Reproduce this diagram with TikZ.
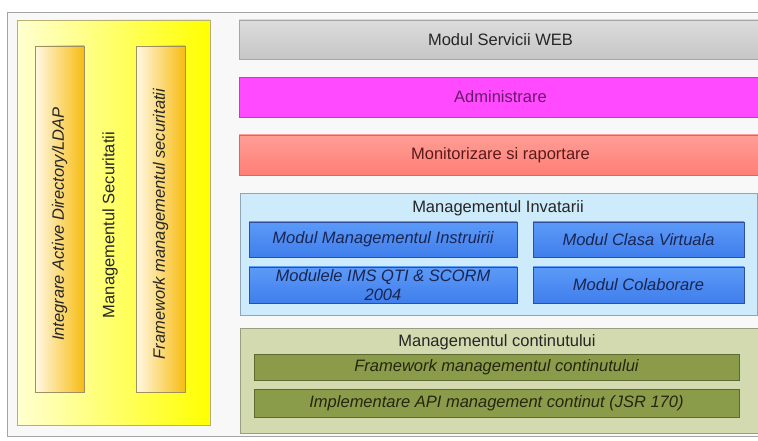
\documentclass[tikz,border=0pt]{standalone}
\usepackage{fontspec}
\setmainfont{Liberation Sans}
\definecolor{framegray}{HTML}{A4A4A4}
\definecolor{framefill}{HTML}{F8F8F8}
\definecolor{yelLight}{HTML}{FFFFD2}
\definecolor{yelDark}{HTML}{FFFF00}
\definecolor{yelBorder}{HTML}{B8B070}
\definecolor{orLight}{HTML}{FFF8E4}
\definecolor{orDark}{HTML}{F7BC12}
\definecolor{orBorder}{HTML}{A09060}
\definecolor{grayTop}{HTML}{DCDCDC}
\definecolor{grayBot}{HTML}{C6C6C6}
\definecolor{grayBorder}{HTML}{A6A6A6}
\definecolor{magFill}{HTML}{FF4AFF}
\definecolor{magBorder}{HTML}{C03CC0}
\definecolor{magText}{HTML}{6A1A6A}
\definecolor{redTop}{HTML}{FF9E96}
\definecolor{redBot}{HTML}{FF7E76}
\definecolor{redBorder}{HTML}{C07070}
\definecolor{redText}{HTML}{5A1A1A}
\definecolor{blueCont}{HTML}{CDEBFA}
\definecolor{blueContBorder}{HTML}{8FA6B6}
\definecolor{blueTop}{HTML}{5C9AF8}
\definecolor{blueBot}{HTML}{407EEC}
\definecolor{blueBorder}{HTML}{2F4F9E}
\definecolor{blueText}{HTML}{1A2550}
\definecolor{greenCont}{HTML}{D3DAAF}
\definecolor{greenContBorder}{HTML}{989E80}
\definecolor{greenFill}{HTML}{8A9C4A}
\definecolor{greenBorder}{HTML}{5C6A32}
\definecolor{greenText}{HTML}{25250F}
\definecolor{darkText}{HTML}{262626}
\tikzset{
  txt/.style={font=\fontsize{16.5bp}{19bp}\selectfont},
  itxt/.style={font=\fontsize{16.5bp}{19bp}\selectfont\itshape},
  bar/.style={draw, rectangle, inner sep=0pt, line width=0.8bp},
}
\begin{document}
\begin{tikzpicture}[x=1bp,y=-1bp]
\useasboundingbox (0,0) rectangle (758,441);
\clip (0,0) rectangle (758,441);
\fill[white] (0,0) rectangle (758,441);
% outer frame
\draw[framegray, fill=framefill, line width=0.8bp] (7,12) rectangle (780,436);

% security column
\node[bar, draw=yelBorder, left color=yelLight, right color=yelDark,
      minimum width=193bp, minimum height=405bp] (sec) at (113.5,222.5) {};
\node[bar, draw=orBorder, left color=orLight, right color=orDark,
      minimum width=49bp, minimum height=346bp] (ldapbar) at (59.5,219) {};
\node[bar, draw=orBorder, left color=orLight, right color=orDark,
      minimum width=49bp, minimum height=346bp] (fwbar) at (160.5,219) {};
\node[itxt, text=darkText, rotate=90] (ldap) at (59.5,224) {Integrare Active Directory/LDAP};
\node[txt, text=darkText, rotate=90] (sectitle) at (110,225) {Managementul Securitatii};
\node[itxt, text=darkText, rotate=90] (fw) at (160.5,224) {Framework managementul securitatii};

% top bands
\node[bar, txt, draw=grayBorder, top color=grayTop, bottom color=grayBot, text=darkText,
      minimum width=523bp, minimum height=39bp] (web) at (500.5,39.5) {Modul Servicii WEB};
\node[bar, txt, draw=magBorder, fill=magFill, text=magText,
      minimum width=523bp, minimum height=40bp] (admin) at (500.5,97) {Administrare};
\node[bar, txt, draw=redBorder, top color=redTop, bottom color=redBot, text=redText,
      minimum width=523bp, minimum height=40bp] (mon) at (500.5,155) {Monitorizare si raportare};

% learning management
\node[bar, draw=blueContBorder, fill=blueCont,
      minimum width=517bp, minimum height=122bp] (learn) at (498.5,254) {};
\node[txt, text=darkText] (learntitle) at (498,208) {Managementul Invatarii};
\node[bar, itxt, draw=blueBorder, top color=blueTop, bottom color=blueBot, text=blueText,
      minimum width=268bp, minimum height=35bp] (instr) at (383,239.5) {Modul Managementul Instruirii};
\node[bar, itxt, draw=blueBorder, top color=blueTop, bottom color=blueBot, text=blueText,
      minimum width=211bp, minimum height=35bp] (clasa) at (638.5,239.5) {Modul Clasa Virtuala};
\node[bar, itxt, draw=blueBorder, top color=blueTop, bottom color=blueBot, text=blueText,
      align=center, minimum width=268bp, minimum height=36bp] (ims) at (383,285) {Modulele IMS QTI \& SCORM\\2004};
\node[bar, itxt, draw=blueBorder, top color=blueTop, bottom color=blueBot, text=blueText,
      minimum width=211bp, minimum height=36bp] (colab) at (638.5,285) {Modul Colaborare};

% content management
\node[bar, draw=greenContBorder, fill=greenCont,
      minimum width=522bp, minimum height=105bp] (content) at (501,380.5) {};
\node[txt, text=darkText] (contenttitle) at (497,342) {Managementul continutului};
\node[bar, itxt, draw=greenBorder, fill=greenFill, text=greenText,
      minimum width=485bp, minimum height=26bp] (cfw) at (496.5,367) {Framework managementul continutului};
\node[bar, itxt, draw=greenBorder, fill=greenFill, text=greenText,
      minimum width=485bp, minimum height=28bp] (api) at (496.5,403) {Implementare API management continut (JSR 170)};
\end{tikzpicture}
\end{document}
